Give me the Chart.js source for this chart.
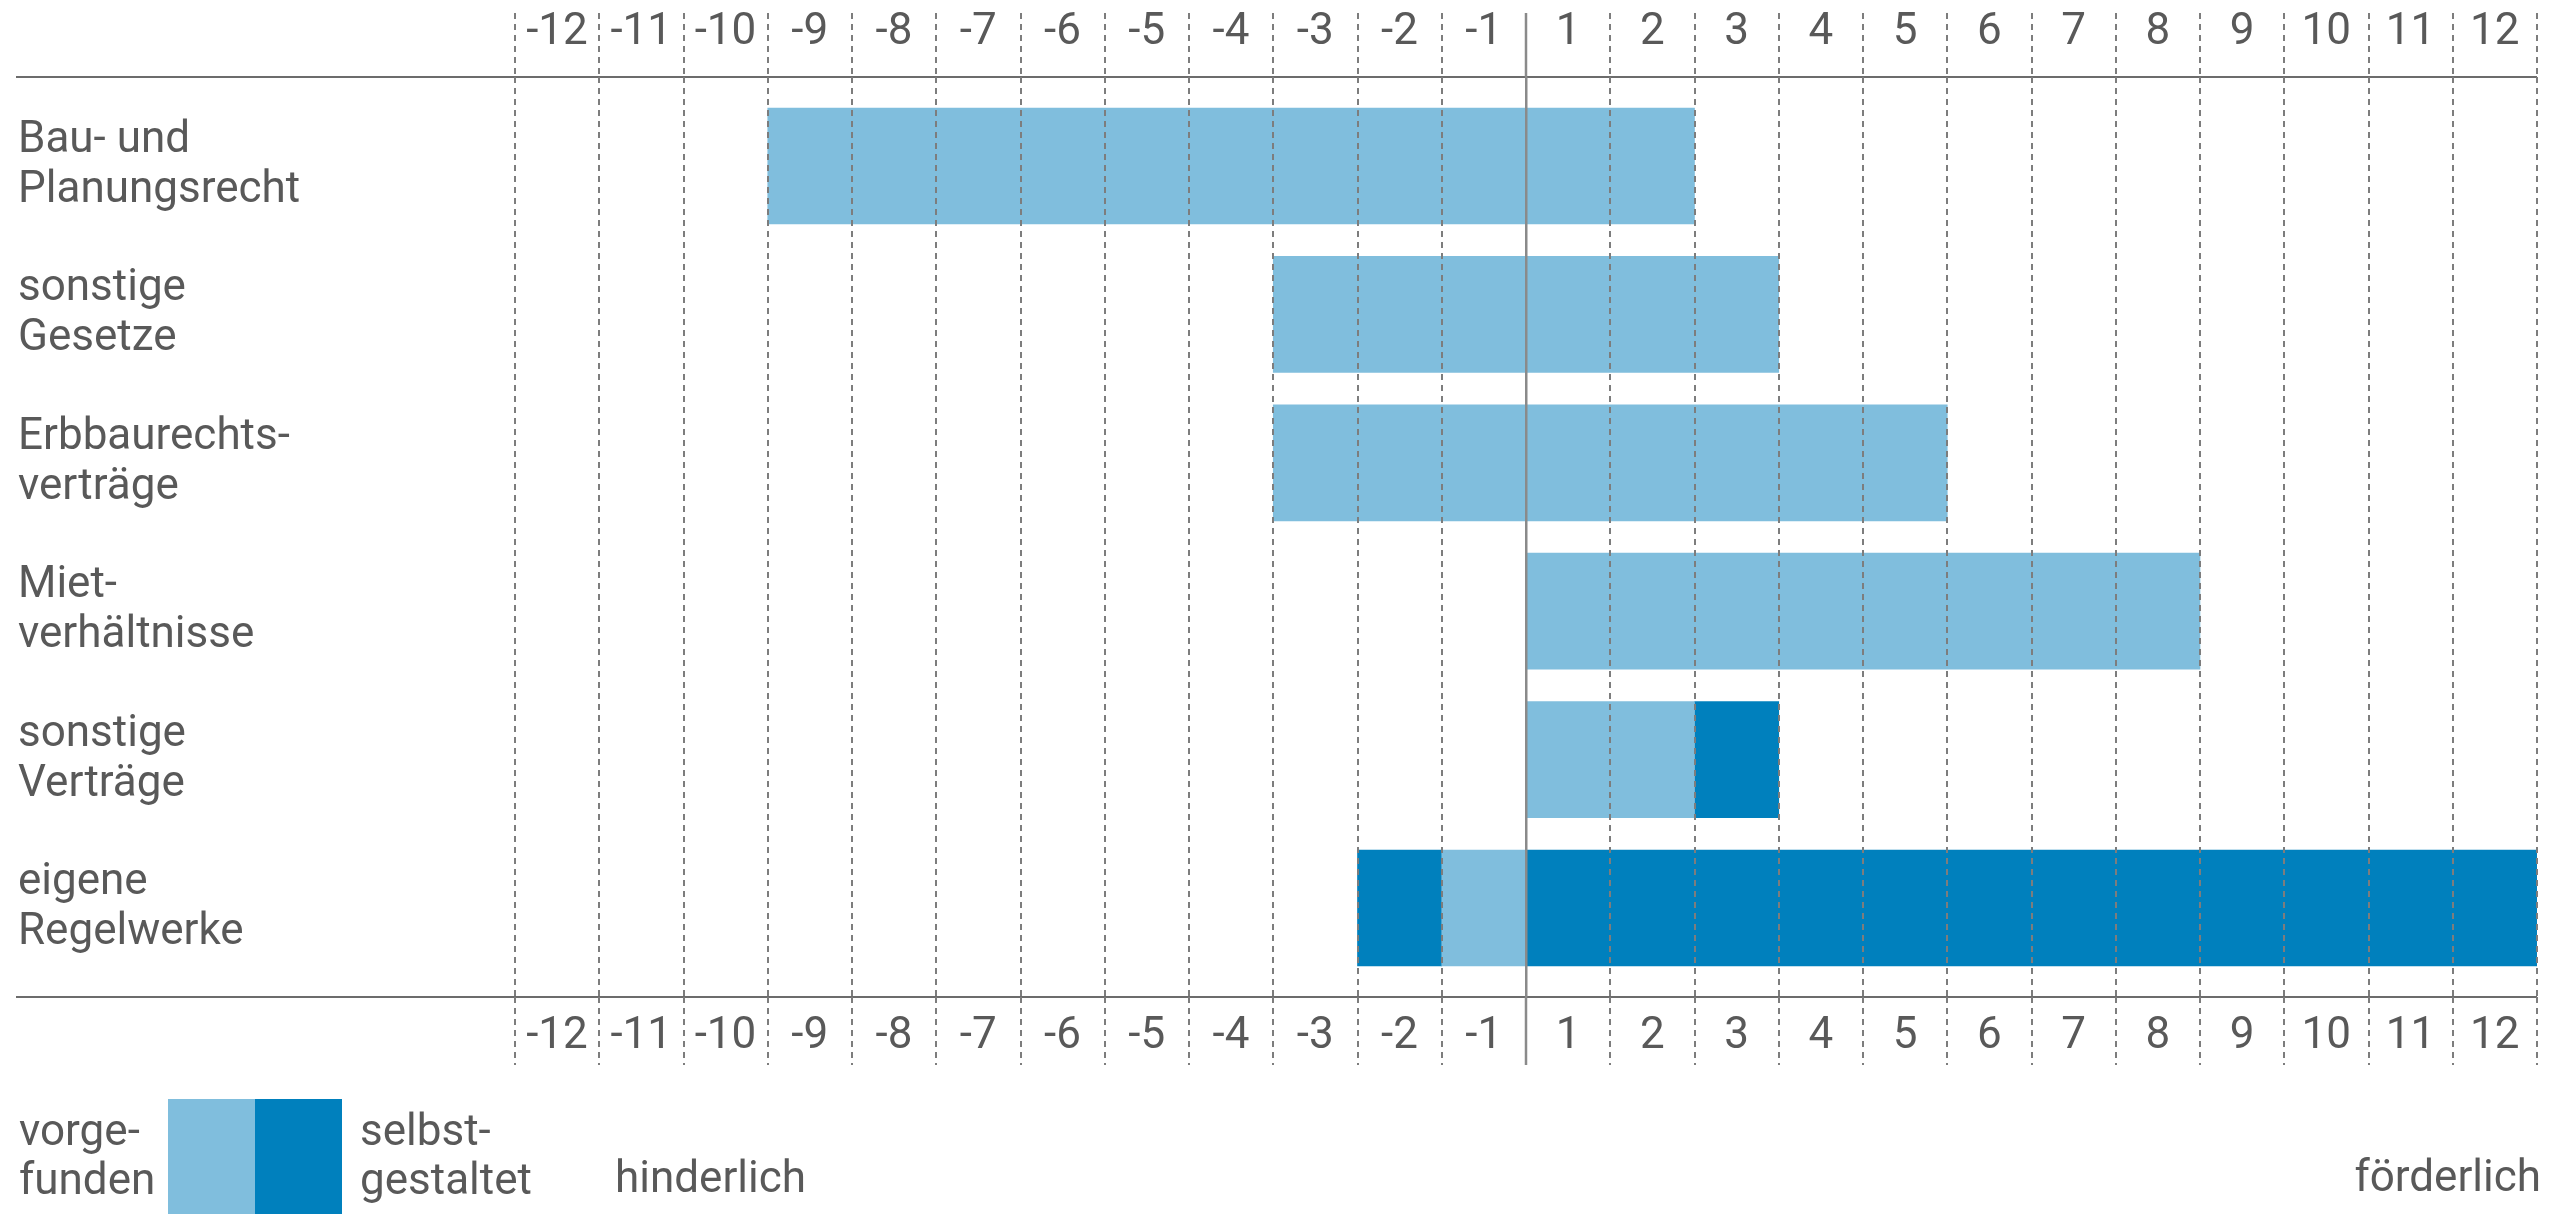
<!DOCTYPE html>
<html lang="de">
<head>
<meta charset="utf-8">
<title>hinderlich / förderlich</title>
<script src="https://cdn.jsdelivr.net/npm/chart.js@4.4.1/dist/chart.umd.min.js"></script>
<style>
  html, body { margin: 0; padding: 0; background: #fff; }
  #wrap { position: relative; width: 2574px; height: 1214px; overflow: hidden;
          font-family: Roboto, "Noto Sans", sans-serif; color: #595959; }
  #chart { position: absolute; left: 0; top: 0; }
  .lbl { position: absolute; font-size: 44px; line-height: 49px; white-space: nowrap; }
  .swatch { position: absolute; top: 1099px; width: 87px; height: 115px; }
</style>
</head>
<body>
<div id="wrap">
  <canvas id="chart" width="2574" height="1214"></canvas>
  <div class="lbl" style="left:19px; top:1106px;">vorge-<br>funden</div>
  <div class="swatch" id="sw-light" style="left:168px;"></div>
  <div class="swatch" id="sw-dark" style="left:255px;"></div>
  <div class="lbl" style="left:360px; top:1106px;">selbst-<br>gestaltet</div>
  <div class="lbl" style="left:615px; top:1153px;">hinderlich</div>
  <div class="lbl" style="right:33px; top:1152px;">förderlich</div>
</div>
<script>
// rows, top to bottom
const categories = [
  ['Bau- und', 'Planungsrecht'],
  ['sonstige', 'Gesetze'],
  ['Erbbaurechts-', 'verträge'],
  ['Miet-', 'verhältnisse'],
  ['sonstige', 'Verträge'],
  ['eigene', 'Regelwerke']
];

// one label per column, there is no 0
const columnLabels = ['-12', '-11', '-10', '-9', '-8', '-7', '-6', '-5', '-4', '-3', '-2', '-1',
                      '1', '2', '3', '4', '5', '6', '7', '8', '9', '10', '11', '12'];

// [from, to] on the -12..12 axis, null = no bar in that row
const vorgefunden = [[-9, 2], [-3, 3], [-3, 5], [0, 8], [0, 2], [-1, 0]];
const selbstgestaltet = [null, null, null, null, [2, 3], [0, 12]];
const selbstgestaltetLinks = [null, null, null, null, null, [-2, -1]];

const LIGHT = '#80bedd';
const DARK = '#0080bd';
const TEXT = '#595959';
const DASH = '#7d7d7d';
const RULE = '#6c6c6c';
const CENTER = '#8a8a8a';
const NONE = 'rgba(0,0,0,0)';
const FONT = { family: 'Roboto', size: 44, weight: 400, lineHeight: 1.14 };

document.getElementById('sw-light').style.background = LIGHT;
document.getElementById('sw-dark').style.background = DARK;

const xMin = -columnLabels.length / 2;
const xMax = columnLabels.length / 2;
const boundaries = columnLabels.map((_, i) => xMin + i).concat([xMax]);
// the two horizontal rules sit a bit outside the first and last row
const rowTicks = [-0.6].concat(categories.map((_, i) => i), [categories.length - 0.4]);

function toPoints(arr) {
  return arr.map((v, i) => v ? { x: v, y: i } : null).filter(p => p);
}

function columnLabel(v) {
  const i = Math.round(v - xMin);
  return i < columnLabels.length ? columnLabels[i] : '';
}

const isCenter = ctx => !!ctx.tick && ctx.tick.value === 0;
const isRule = ctx => !!ctx.tick && !Number.isInteger(ctx.tick.value);

function dashedGrid(tickLength, onArea) {
  return {
    color: DASH,
    lineWidth: 2,
    drawOnChartArea: onArea,
    drawTicks: true,
    tickLength: tickLength,
    tickColor: ctx => isCenter(ctx) ? CENTER : DASH,
    tickWidth: ctx => isCenter(ctx) ? 2.5 : 2,
    tickBorderDash: ctx => isCenter(ctx) ? [] : [6, 5],
    z: 1
  };
}

function columnTicks(padding) {
  return {
    callback: columnLabel,
    labelOffset: 42,
    padding: padding,
    autoSkip: false,
    maxRotation: 0,
    color: TEXT,
    font: FONT
  };
}

function draw() {
  new Chart(document.getElementById('chart'), {
    type: 'bar',
    data: {
      datasets: [
        { label: 'vorgefunden', data: toPoints(vorgefunden), backgroundColor: LIGHT },
        { label: 'selbstgestaltet', data: toPoints(selbstgestaltet), backgroundColor: DARK },
        { label: 'selbstgestaltet', data: toPoints(selbstgestaltetLinks), backgroundColor: DARK }
      ]
    },
    options: {
      indexAxis: 'y',
      responsive: false,
      animation: false,
      events: [],
      devicePixelRatio: 1,
      layout: { padding: { left: 18, right: 37, top: 0, bottom: 149 } },
      datasets: {
        bar: { grouped: false, barThickness: 116, borderWidth: 0 }
      },
      plugins: {
        legend: { display: false },
        tooltip: { enabled: false }
      },
      scales: {
        x: {
          type: 'linear',
          position: 'bottom',
          min: xMin,
          max: xMax,
          afterBuildTicks: s => { s.ticks = boundaries.map(v => ({ value: v })); },
          afterFit: s => { s.height = 68; },
          grid: dashedGrid(68, true),
          border: { display: false, dash: [6, 5] },
          ticks: columnTicks(-53)
        },
        xt: {
          type: 'linear',
          position: 'top',
          min: xMin,
          max: xMax,
          afterBuildTicks: s => { s.ticks = boundaries.map(v => ({ value: v })); },
          afterFit: s => { s.height = 77; },
          grid: dashedGrid(64, false),
          border: { display: false },
          ticks: columnTicks(-45)
        },
        // solid line between -1 and 1
        xc: {
          type: 'linear',
          position: 'bottom',
          min: xMin,
          max: xMax,
          afterBuildTicks: s => { s.ticks = [{ value: 0 }]; },
          afterFit: s => { s.height = 0; },
          grid: { color: CENTER, lineWidth: 2.5, drawTicks: false, z: 1 },
          border: { display: false },
          ticks: { display: false }
        },
        y: {
          type: 'linear',
          position: 'left',
          reverse: true,
          offset: false,
          min: rowTicks[0],
          max: rowTicks[rowTicks.length - 1],
          afterBuildTicks: s => { s.ticks = rowTicks.map(v => ({ value: v })); },
          afterFit: s => { s.width = 497; },
          grid: {
            offset: false,
            color: ctx => isRule(ctx) ? RULE : NONE,
            tickColor: ctx => isRule(ctx) ? RULE : NONE,
            lineWidth: 2,
            tickWidth: 2,
            drawTicks: true,
            tickLength: 499
          },
          border: { display: false },
          ticks: {
            callback: v => Number.isInteger(v) ? categories[v] : '',
            crossAlign: 'far',
            autoSkip: false,
            color: TEXT,
            font: FONT
          }
        }
      }
    }
  });
}

if (document.fonts && document.fonts.load) {
  document.fonts.load('400 44px Roboto').catch(() => {}).then(draw);
} else {
  draw();
}
</script>
</body>
</html>
